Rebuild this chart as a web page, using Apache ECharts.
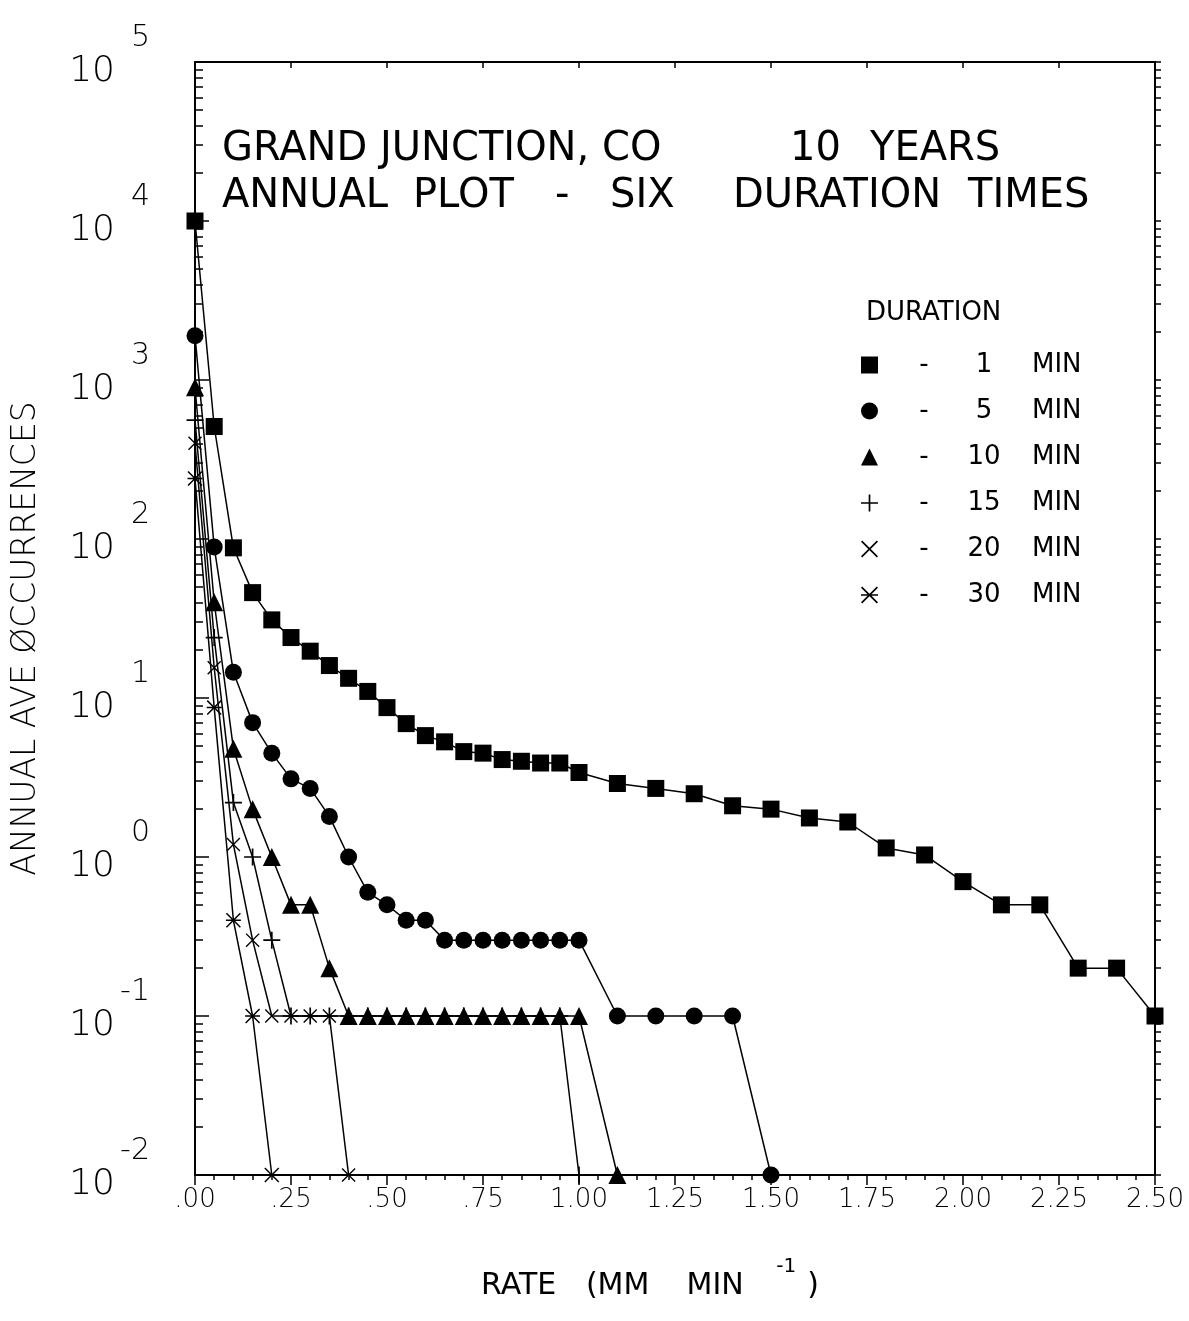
<!DOCTYPE html>
<html>
<head>
<meta charset="utf-8">
<title>Grand Junction, CO - annual plot</title>
<script src="https://cdn.jsdelivr.net/npm/echarts@6/dist/echarts.min.js"></script>
<style>
html, body { margin: 0; padding: 0; background: #fff; }
#chart { width: 1189px; height: 1321px; }
</style>
</head>
<body>
<div id="chart"></div>
<script>
// rate (mm/min) and annual average occurrences, one pair of arrays per duration
var rates1 = [0, .05, .10, .15, .20, .25, .30, .35, .40, .45, .50, .55, .60, .65, .70, .75, .80, .85, .90, .95, 1.00,
              1.1, 1.2, 1.3, 1.4, 1.5, 1.6, 1.7, 1.8, 1.9, 2.0, 2.1, 2.2, 2.3, 2.4, 2.5];
var occ1 = [10000, 510, 88, 46, 31, 24, 19.7, 16, 13.3, 11, 8.7, 6.9, 5.8, 5.3, 4.6, 4.5, 4.1, 4.0, 3.9, 3.9, 3.4,
            2.9, 2.7, 2.5, 2.1, 2.0, 1.76, 1.66, 1.14, 1.03, 0.7, 0.5, 0.5, 0.2, 0.2, 0.1];

var rates5 = [0, .05, .10, .15, .20, .25, .30, .35, .40, .45, .50, .55, .60, .65, .70, .75, .80, .85, .90, .95, 1.00,
              1.1, 1.2, 1.3, 1.4, 1.5];
var occ5 = [1900, 89, 14.5, 7.0, 4.5, 3.1, 2.7, 1.8, 1.0, 0.6, 0.5, 0.4, 0.4, 0.3, 0.3, 0.3, 0.3, 0.3, 0.3, 0.3, 0.3,
            0.1, 0.1, 0.1, 0.1, 0.01];

var rates10 = [0, .05, .10, .15, .20, .25, .30, .35, .40, .45, .50, .55, .60, .65, .70, .75, .80, .85, .90, .95, 1.00, 1.1];
var occ10 = [900, 40, 4.8, 2.0, 1.0, 0.5, 0.5, 0.2, 0.1, 0.1, 0.1, 0.1, 0.1, 0.1, 0.1, 0.1, 0.1, 0.1, 0.1, 0.1, 0.1, 0.01];

var rates15 = [0, .05, .10, .15, .20, .25, .30, .35, .40, .45, .50, .55, .60, .65, .70, .75, .80, .85, .90, .95, 1.00];
var occ15 = [560, 24, 2.2, 1.0, 0.3, 0.1, 0.1, 0.1, 0.1, 0.1, 0.1, 0.1, 0.1, 0.1, 0.1, 0.1, 0.1, 0.1, 0.1, 0.1, 0.01];

var rates20 = [0, .05, .10, .15, .20, .25, .30, .35, .40];
var occ20 = [400, 15.5, 1.2, 0.3, 0.1, 0.1, 0.1, 0.1, 0.01];

var rates30 = [0, .05, .10, .15, .20];
var occ30 = [240, 8.7, 0.4, 0.1, 0.01];

var durations = ["1 MIN", "5 MIN", "10 MIN", "15 MIN", "20 MIN", "30 MIN"];

// log axis: decades 10^-2 .. 10^5, minor ticks at 2..9 of each decade
var yMin = 0.01, yMax = 100000;
var decadeTicks = [];
var minorTicks = [];
for (var k = -2; k <= 5; k++) {
    decadeTicks.push(+Math.pow(10, k).toPrecision(3));
    if (k === 5) break;
    for (var m = 2; m <= 9; m++) minorTicks.push(+(m * Math.pow(10, k)).toPrecision(3));
}
var allTicks = decadeTicks.concat(minorTicks);

var FONT = "DejaVu Sans";
var PLUS = "path://M9,0H11V9H20V11H11V20H9V11H0V9H9Z";
var CROSS = "path://M0,1.4L1.4,0L20,18.6L18.6,20Z M18.6,0L20,1.4L1.4,20L0,18.6Z";
var STAR = "path://M0,1.4L1.4,0L20,18.6L18.6,20Z M18.6,0L20,1.4L1.4,20L0,18.6Z M0,9H20V11H0Z";

var symbols = ["rect", "circle", "triangle", PLUS, CROSS, STAR];
var symbolSizes = [17, 17, 18, 17, 14, 15];

function pairs(xs, ys) {
    return xs.map(function (x, i) { return [x, ys[i]]; });
}

var seriesData = [pairs(rates1, occ1), pairs(rates5, occ5), pairs(rates10, occ10),
                  pairs(rates15, occ15), pairs(rates20, occ20), pairs(rates30, occ30)];

function tstyle(w) {
    var s = {fontFamily: FONT, fontSize: 40, fontWeight: "normal", lineHeight: 47, color: "#000"};
    if (w) s.width = w;
    return s;
}

function nstyle(w, extra) {
    var s = {fontFamily: FONT, fontSize: 30, fontWeight: "normal", lineHeight: 44, verticalAlign: "bottom", color: "#000"};
    if (w) s.width = w;
    for (var key in extra) s[key] = extra[key];
    return s;
}

var chart = echarts.init(document.getElementById("chart"));

var option = {
    animation: false,
    backgroundColor: "#fff",
    title: [
        {
            left: 222,
            top: 126,
            padding: 0,
            text: "{g|GRAND JUNCTION, CO}{n|10}{t|YEARS}\n" +
                  "{a1|ANNUAL}{a2|PLOT}{a3|-}{a4|SIX}{a5|DURATION}{t|TIMES}",
            textStyle: {
                fontWeight: "normal",
                rich: {
                    g: tstyle(568), n: tstyle(80), t: tstyle(0),
                    a1: tstyle(191), a2: tstyle(142), a3: tstyle(55), a4: tstyle(123), a5: tstyle(235)
                }
            }
        },
        {
            left: 866,
            top: 298,
            padding: 0,
            text: "DURATION",
            textStyle: {fontFamily: FONT, fontSize: 26, lineHeight: 30, fontWeight: "normal", color: "#000"}
        }
    ],
    legend: {
        orient: "vertical",
        left: 856,
        top: 345,
        itemWidth: 17,
        itemHeight: 17,
        itemGap: 16,
        selectedMode: false,
        data: durations.map(function (d, i) { return {name: d, icon: symbols[i]}; }),
        formatter: function (name) {
            var p = name.split(" ");
            return "{d|-}{n|" + p[0] + "}{m|" + p[1] + "}";
        },
        textStyle: {
            fontFamily: FONT,
            fontSize: 26,
            lineHeight: 30,
            color: "#000",
            rich: {
                d: {fontFamily: FONT, fontSize: 26, color: "#000", width: 82, align: "center"},
                n: {fontFamily: FONT, fontSize: 26, color: "#000", width: 38, align: "right"},
                m: {fontFamily: FONT, fontSize: 26, color: "#000", padding: [0, 0, 0, 29]}
            }
        }
    },
    grid: {left: 195, right: 34, top: 62, bottom: 146, containLabel: false},
    xAxis: [
        {
            type: "value",
            position: "bottom",
            min: 0,
            max: 2.5,
            interval: 0.25,
            name: "{r|RATE}{p|(MM}{q|MIN}{s|-1}{c|)}",
            nameLocation: "middle",
            nameGap: 82,
            nameTextStyle: {
                padding: [0, 64, 0, 0],
                rich: {
                    r: nstyle(103), p: nstyle(95), q: nstyle(100), c: nstyle(0),
                    s: nstyle(42, {fontSize: 20, verticalAlign: "top"})
                }
            },
            axisLine: {show: true, onZero: false, lineStyle: {color: "#000", width: 2}},
            axisTick: {show: true, inside: false, length: 10, lineStyle: {color: "#000", width: 1.5}},
            minorTick: {show: true, splitNumber: 5, length: 5, lineStyle: {color: "#000", width: 1.5}},
            splitLine: {show: false},
            axisLabel: {
                margin: 12,
                fontFamily: FONT,
                fontSize: 26,
                fontWeight: 200,
                color: "#000",
                formatter: function (v) {
                    var s = v.toFixed(2);
                    return s.charAt(0) === "0" ? s.slice(1) : s;
                }
            }
        },
        {
            type: "value",
            position: "top",
            min: 0,
            max: 2.5,
            interval: 0.25,
            axisLine: {show: true, onZero: false, lineStyle: {color: "#000", width: 2}},
            axisTick: {show: true, inside: true, length: 6, lineStyle: {color: "#000", width: 1.5}},
            axisLabel: {show: false},
            splitLine: {show: false}
        }
    ],
    yAxis: [
        {
            type: "log",
            logBase: 10,
            position: "left",
            min: yMin,
            max: yMax,
            name: "ANNUAL AVE ØCCURRENCES",
            nameLocation: "middle",
            nameGap: 152,
            nameRotate: 90,
            nameTextStyle: {fontFamily: FONT, fontSize: 33, fontWeight: 200, color: "#000", padding: [0, 40, 0, 0]},
            axisLine: {show: true, onZero: false, lineStyle: {color: "#000", width: 2}},
            axisTick: {show: true, inside: true, length: 14, lineStyle: {color: "#000", width: 1.5}},
            splitLine: {show: false},
            axisLabel: {
                margin: 45,
                formatter: function (v) {
                    var e = Math.round(Math.log10(v));
                    return "{e|" + e + "}\n{b|10}\n{s| }";
                },
                rich: {
                    e: {fontFamily: FONT, fontSize: 30, fontWeight: 200, lineHeight: 34, color: "#000"},
                    b: {fontFamily: FONT, fontSize: 36, fontWeight: 200, lineHeight: 34, color: "#000", padding: [0, 35, 0, 0]},
                    s: {fontSize: 10, lineHeight: 14}
                }
            }
        },
        {
            type: "log",
            logBase: 10,
            position: "left",
            offset: 0,
            min: yMin,
            max: yMax,
            axisLine: {show: false},
            axisTick: {show: true, inside: true, length: 8, customValues: minorTicks, lineStyle: {color: "#000", width: 1.5}},
            axisLabel: {show: false},
            splitLine: {show: false}
        },
        {
            type: "log",
            logBase: 10,
            position: "right",
            offset: 0,
            min: yMin,
            max: yMax,
            axisLine: {show: true, onZero: false, lineStyle: {color: "#000", width: 2}},
            axisTick: {show: true, inside: false, length: 6, customValues: allTicks, lineStyle: {color: "#000", width: 1.5}},
            axisLabel: {show: false},
            splitLine: {show: false}
        }
    ],
    series: durations.map(function (d, i) {
        return {
            name: d,
            type: "line",
            xAxisIndex: 0,
            yAxisIndex: 0,
            data: seriesData[i],
            symbol: symbols[i],
            symbolSize: symbolSizes[i],
            showAllSymbol: true,
            clip: false,
            lineStyle: {color: "#000", width: 1.5},
            itemStyle: {color: "#000"},
            emphasis: {disabled: true}
        };
    })
};

chart.setOption(option, true);
</script>
</body>
</html>
